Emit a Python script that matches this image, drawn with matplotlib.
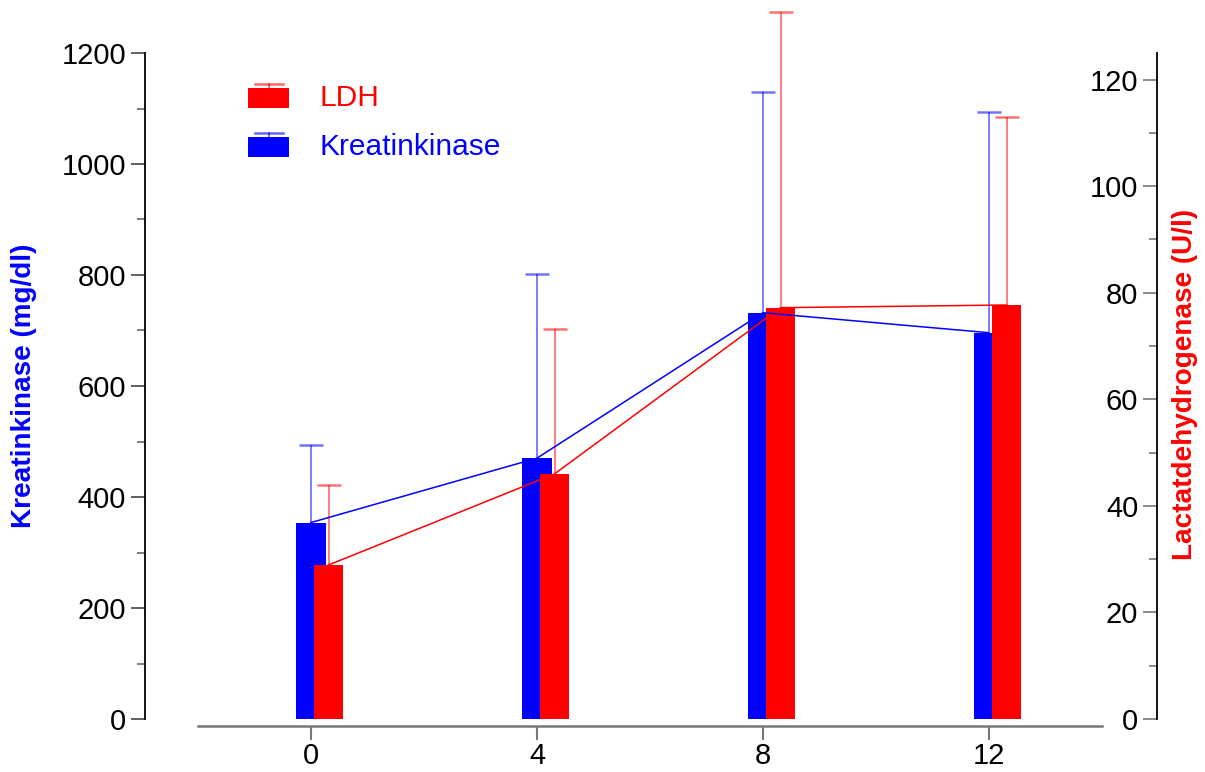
import matplotlib
matplotlib.use("Agg")
import matplotlib.pyplot as plt
import numpy as np
from matplotlib.patches import Rectangle, Patch
from matplotlib.lines import Line2D
from matplotlib.legend_handler import HandlerBase
from matplotlib.ticker import MultipleLocator

plt.rcParams['font.family'] = ['Liberation Sans', 'DejaVu Sans']

# ---- data ----
time_points = [0, 4, 8, 12]
ck_mean = [354, 470, 732, 696]          # Kreatinkinase (mg/dl)
ck_sd = [140, 332, 398, 398]
ldh_mean = [28.9, 46.0, 77.2, 77.7]     # LDH (U/l)
ldh_sd = [15.0, 27.2, 55.5, 35.2]
xtick_labels = ['0', '4', '8', '12']

BLUE = '#0000FF'
RED = '#FF0000'
FS = 21
FS_LAB = 20.1
FS_LEG = 21.5

fig = plt.figure(figsize=(12.05, 7.72), dpi=100)
ax = fig.add_axes([198/1205, 1-719/772, 904/1205, 666/772])
ax2 = ax.twinx()

x = np.array(time_points, dtype=float)
bw = 0.52
off = 0.31
CAP = 8.6

# blue bars + error bars (left axis)
ax.bar(x, ck_mean, width=bw, color=BLUE, edgecolor='none', zorder=2)
eb1 = ax.errorbar(x, ck_mean, yerr=[np.zeros(len(x)), ck_sd], fmt='none',
                  ecolor=BLUE, alpha=0.55, elinewidth=1.3, capsize=CAP, capthick=1.8,
                  zorder=3)

# red bars + error bars (right axis)
ax2.bar(x + off, ldh_mean, width=bw, color=RED, edgecolor='none', zorder=2)
eb2 = ax2.errorbar(x + off, ldh_mean, yerr=[np.zeros(len(x)), ldh_sd], fmt='none',
                   ecolor=RED, alpha=0.55, elinewidth=1.3, capsize=CAP, capthick=1.8,
                   zorder=3)
for eb in (eb1, eb2):
    caps = eb.lines[1]
    caps[0].set_visible(False)          # no cap at the bar top
    for art in list(caps) + list(eb.lines[2]):
        art.set_clip_on(False)

# connecting lines (on top)
ax2.plot(x + off, ldh_mean, color=RED, lw=1.1, zorder=4, clip_on=False)
ax2.plot(x, ck_mean, color=BLUE, lw=1.1, zorder=5, transform=ax.transData, clip_on=False)

# ---- axes styling ----
ax.set_xlim(-2, 14)
ax.set_ylim(0, 1200)
ax2.set_ylim(0, 125)

ax.set_xticks(time_points)
ax.set_xticklabels(xtick_labels)
for s in ['top', 'right']:
    ax.spines[s].set_visible(False)
ax.spines['left'].set_position(('axes', -53/904))
ax.spines['left'].set_linewidth(1.3)
ax.spines['bottom'].set_position(('outward', 5))
ax.spines['bottom'].set_color('#777777')
ax.spines['bottom'].set_linewidth(1.8)

ax.yaxis.set_major_locator(MultipleLocator(200))
ax.yaxis.set_minor_locator(MultipleLocator(100))
ax.tick_params(axis='y', which='major', length=10, width=1.2, color='#444444',
               labelsize=FS, pad=3.5)
ax.tick_params(axis='y', which='minor', length=5.5, width=1.2, color='#666666')
ax.tick_params(axis='x', which='major', length=10, width=1.5, color='#777777',
               labelsize=FS, pad=1.5)

# right axis: spine at the right, ticks and labels to its left
for s in ['top', 'right', 'bottom']:
    ax2.spines[s].set_visible(False)
ax2.spines['left'].set_visible(True)
ax2.spines['left'].set_position(('axes', (1157-198)/904))
ax2.spines['left'].set_linewidth(1.3)
ax2.yaxis.tick_left()
ax2.yaxis.set_major_locator(MultipleLocator(20))
ax2.yaxis.set_minor_locator(MultipleLocator(10))
ax2.tick_params(axis='y', which='major', length=10, width=1.2, color='#777777',
                labelsize=FS, pad=3.5)
ax2.tick_params(axis='y', which='minor', length=5.5, width=1.2, color='#777777')

ax.set_ylabel('Kreatinkinase (mg/dl)', color=BLUE, fontweight='bold', fontsize=FS_LAB)
ax.yaxis.set_label_coords((24-198)/904, 0.5)
ax.yaxis.label.set_va('center')
ax2.set_ylabel('Lactatdehydrogenase (U/l)', color=RED, fontweight='bold', fontsize=FS_LAB)
ax2.yaxis.set_label_coords((1185-198)/904, 0.503)
ax2.yaxis.label.set_va('center')
ax2.yaxis.label.set_ha('center')


# ---- legend with bar + error-cap handles ----
class BarErrHandler(HandlerBase):
    def create_artists(self, legend, orig_handle, xdescent, ydescent,
                       width, height, fontsize, trans):
        c = orig_handle.get_facecolor()
        rh = height * 0.84
        rect = Rectangle((-xdescent, -ydescent), width, rh, facecolor=c,
                         edgecolor='none', transform=trans)
        cx = -xdescent + width / 2
        stem = Line2D([cx, cx], [-ydescent + rh, -ydescent + height], color=c,
                      alpha=0.6, lw=1.3, transform=trans)
        cap = Line2D([-xdescent + width * 0.17, -xdescent + width * 0.85],
                     [-ydescent + height, -ydescent + height], color=c,
                     alpha=0.6, lw=1.8, transform=trans)
        return [rect, stem, cap]


fs_px = FS_LEG * 100 / 72
handles = [Patch(facecolor=RED), Patch(facecolor=BLUE)]
labels = ['LDH', 'Kreatinkinase']
leg = fig.legend(handles, labels, handler_map={Patch: BarErrHandler()},
                 loc='upper left', bbox_to_anchor=(248/1205, 1-84/772),
                 frameon=False, fontsize=FS_LEG, borderpad=0, borderaxespad=0,
                 handlelength=41/fs_px, handleheight=25/fs_px, handletextpad=31/fs_px,
                 labelspacing=0.7)
for t, c in zip(leg.get_texts(), [RED, BLUE]):
    t.set_color(c)

fig.savefig('out.png', dpi=100)
